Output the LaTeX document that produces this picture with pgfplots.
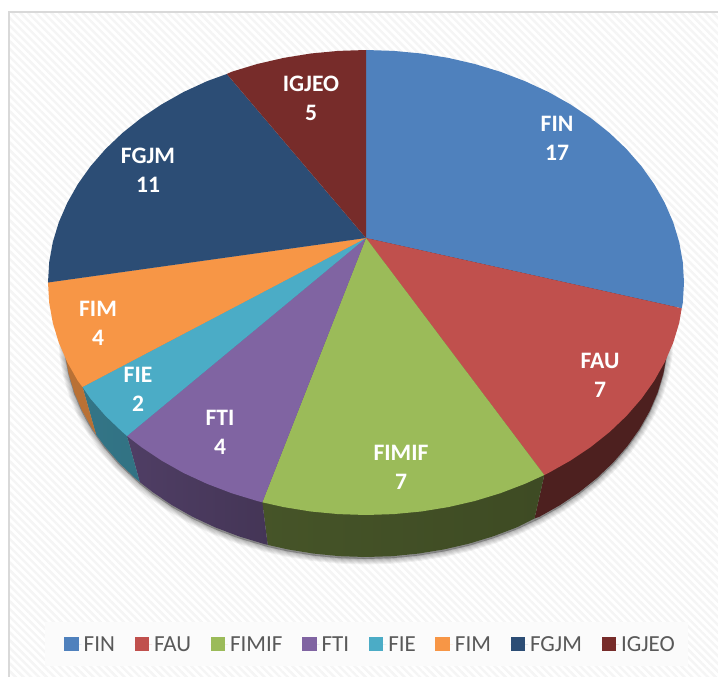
\documentclass[border=0pt]{standalone}
\usepackage{fontspec}
\setmainfont{Carlito}
\usepackage{pgfplots}
\pgfplotsset{compat=1.18}
\usetikzlibrary{patterns.meta}
\definecolor{cFIN}{HTML}{4F81BD}
\definecolor{cFAU}{HTML}{C0504D}
\definecolor{cFIMIF}{HTML}{9BBB59}
\definecolor{cFTI}{HTML}{8064A2}
\definecolor{cFIE}{HTML}{4BACC6}
\definecolor{cFIM}{HTML}{F79646}
\definecolor{cFGJM}{HTML}{2C4D75}
\definecolor{cIGJEO}{HTML}{772C2A}
\newcommand{\lab}[3]{\node[text=white, font=\fontsize{23.6}{29}\selectfont\bfseries, align=center] at (axis cs:#1,#2) {#3};}
\begin{document}
\begin{tikzpicture}
\begin{axis}[
  scale only axis, width=718pt, height=677pt,
  xmin=0, xmax=718, ymin=0, ymax=677, y dir=reverse,
  axis lines=none, clip=true,
  legend columns=-1,
  legend style={at={(axis cs:45,622)}, anchor=north west, draw=none, fill=none,
    font=\fontsize{23}{25}\selectfont, text=black!65,
    inner xsep=19pt, inner ysep=12pt,
    /tikz/every even column/.append style={column sep=17.6pt}},
  legend cell align=left,
  legend image code/.code={\fill[#1] (0pt,-7pt) rectangle (14.5pt,7pt); \path (0pt,0pt) -- (17.5pt,0pt);},
]
% page background and frame
\fill[white] (axis cs:0,0) rectangle (axis cs:718,677);
\fill[pattern={Lines[angle=-45,distance=5.5pt,line width=2.4pt]}, pattern color=black!4]
  (axis cs:9,12) rectangle (axis cs:718,677);
\draw[black!15, line width=2pt] (axis cs:9,677) -- (axis cs:9,12) -- (axis cs:718,12);
\fill[white!98.5!black] (axis cs:45,622) rectangle (axis cs:688,666);

% soft shadow under the pie
\pgfplotsinvokeforeach{11,9,7,5,3,1.5}{
\addplot[forget plot, draw=black, fill=black, line width=#1pt, opacity=0.05, line join=round, yshift=-2pt] coordinates {
(668,335)(666.9,354.4)(663.4,373.5)(657.7,392.5)(649.8,410.9)(639.7,428.8)(627.5,446)(613.4,462.3)(597.3,477.7)(579.5,492)(560.1,505.1)(539.2,516.9)(517,527.3)(493.6,536.2)(469.3,543.6)(444.2,549.4)(418.4,553.6)(392.3,556.2)(366,557)(339.7,556.2)(313.6,553.6)(287.8,549.4)(267.7,544.9)(238.4,536.2)(215,527.3)(192.8,516.9)(171.9,505.1)(152.5,492)(139.8,482.1)(118.6,462.3)(104.5,446)(92.3,428.8)(82.2,410.9)(74.3,392.5)(68.6,373.5)(65.1,354.4)(64,335)} -- cycle;
}

% side walls
\addplot[forget plot, draw=none, fill=cFAU!40!black] coordinates {
(366,238)(684,282.5)(668,335)(666.9,354.4)(663.4,373.5)(657.7,392.5)(649.8,410.9)(639.7,428.8)(627.5,446)(613.4,462.3)(597.3,477.7)(579.5,492)(560.1,505.1)(539.2,516.9)(534.5,518.5)(544.3,475)} -- cycle;
\addplot[forget plot, draw=none, left color=cFIMIF!45!black, right color=cFIMIF!40!black] coordinates {
(366,238)(544.3,475)(534.5,518.5)(517,527.3)(493.6,536.2)(469.3,543.6)(444.2,549.4)(418.4,553.6)(392.3,556.2)(366,557)(339.7,556.2)(313.6,553.6)(287.8,549.4)(267.7,544.9)(262.3,502.3)} -- cycle;
\addplot[forget plot, draw=none, left color=cFTI!62!black, right color=cFTI!47!black] coordinates {
(366,238)(262.3,502.3)(267.7,544.9)(262.7,543.6)(238.4,536.2)(215,527.3)(192.8,516.9)(171.9,505.1)(152.5,492)(139.8,482.1)(127,436)} -- cycle;
\addplot[forget plot, draw=none, left color=cFIE!68!black, right color=cFIE!60!black] coordinates {
(366,238)(127,436)(139.8,482.1)(134.7,477.7)(118.6,462.3)(104.5,446)(96.1,434.6)(82.5,387)} -- cycle;
\addplot[forget plot, draw=none, fill=cFIM!75!black] coordinates {
(366,238)(82.5,387)(96.1,434.6)(92.3,428.8)(82.2,410.9)(74.3,392.5)(68.6,373.5)(65.1,354.4)(64,335)(48,282.5)} -- cycle;

% top faces
\addplot[draw=none, fill=cFIN] coordinates {
(366,238)(366,50)(393.7,50.9)(421.2,53.5)(448.3,57.9)(474.8,64)(500.4,71.8)(525,81.2)(548.4,92)(570.4,104.4)(590.9,118.1)(609.6,133)(626.5,149.1)(641.4,166.2)(654.2,184.2)(664.8,203)(673.2,222.3)(679.2,242.1)(682.8,262.2)(684,282.5)(682.8,302.8)(681.7,308.3)} -- cycle;
\addlegendentry{FIN}
\addplot[draw=none, fill=cFAU] coordinates {
(366,238)(681.7,308.3)(679.2,322.9)(673.2,342.7)(664.8,362)(654.2,380.8)(641.4,398.8)(626.5,415.9)(609.6,432)(590.9,446.9)(570.4,460.6)(548.4,473)(544.3,475)} -- cycle;
\addlegendentry{FAU}
\addplot[draw=none, fill=cFIMIF] coordinates {
(366,238)(544.3,475)(525,483.8)(500.4,493.2)(474.8,501)(448.3,507.1)(421.2,511.5)(393.7,514.1)(366,515)(338.3,514.1)(310.8,511.5)(283.7,507.1)(262.3,502.3)} -- cycle;
\addlegendentry{FIMIF}
\addplot[draw=none, fill=cFTI] coordinates {
(366,238)(262.3,502.3)(257.2,501)(231.6,493.2)(207,483.8)(183.6,473)(161.6,460.6)(141.1,446.9)(127,436)} -- cycle;
\addlegendentry{FTI}
\addplot[draw=none, fill=cFIE] coordinates {
(366,238)(127,436)(122.4,432)(105.5,415.9)(90.6,398.8)(82.5,387)} -- cycle;
\addlegendentry{FIE}
\addplot[draw=none, fill=cFIM] coordinates {
(366,238)(82.5,387)(77.8,380.8)(67.2,362)(58.8,342.7)(52.8,322.9)(49.2,302.8)(48,282.5)} -- cycle;
\addlegendentry{FIM}
\addplot[draw=none, fill=cFGJM] coordinates {
(366,238)(48,282.5)(49.2,262.2)(52.8,242.1)(58.8,222.3)(67.2,203)(77.8,184.2)(90.6,166.2)(105.5,149.1)(122.4,133)(141.1,118.1)(161.6,104.4)(183.6,92)(207,81.2)(226.8,74)} -- cycle;
\addlegendentry{FGJM}
\addplot[draw=none, fill=cIGJEO] coordinates {
(366,238)(226.8,74)(231.6,71.8)(257.2,64)(283.7,57.9)(310.8,53.5)(338.3,50.9)(366,50)} -- cycle;
\addlegendentry{IGJEO}

% data labels
\lab{557}{138}{FIN\\17}
\lab{600}{375.5}{FAU\\7}
\lab{401}{467.5}{FIMIF\\7}
\lab{220}{432.5}{FTI\\4}
\lab{138}{389}{FIE\\2}
\lab{98}{323.5}{FIM\\4}
\lab{148}{170}{FGJM\\11}
\lab{311}{98}{IGJEO\\5}
\end{axis}
\end{tikzpicture}
\end{document}
